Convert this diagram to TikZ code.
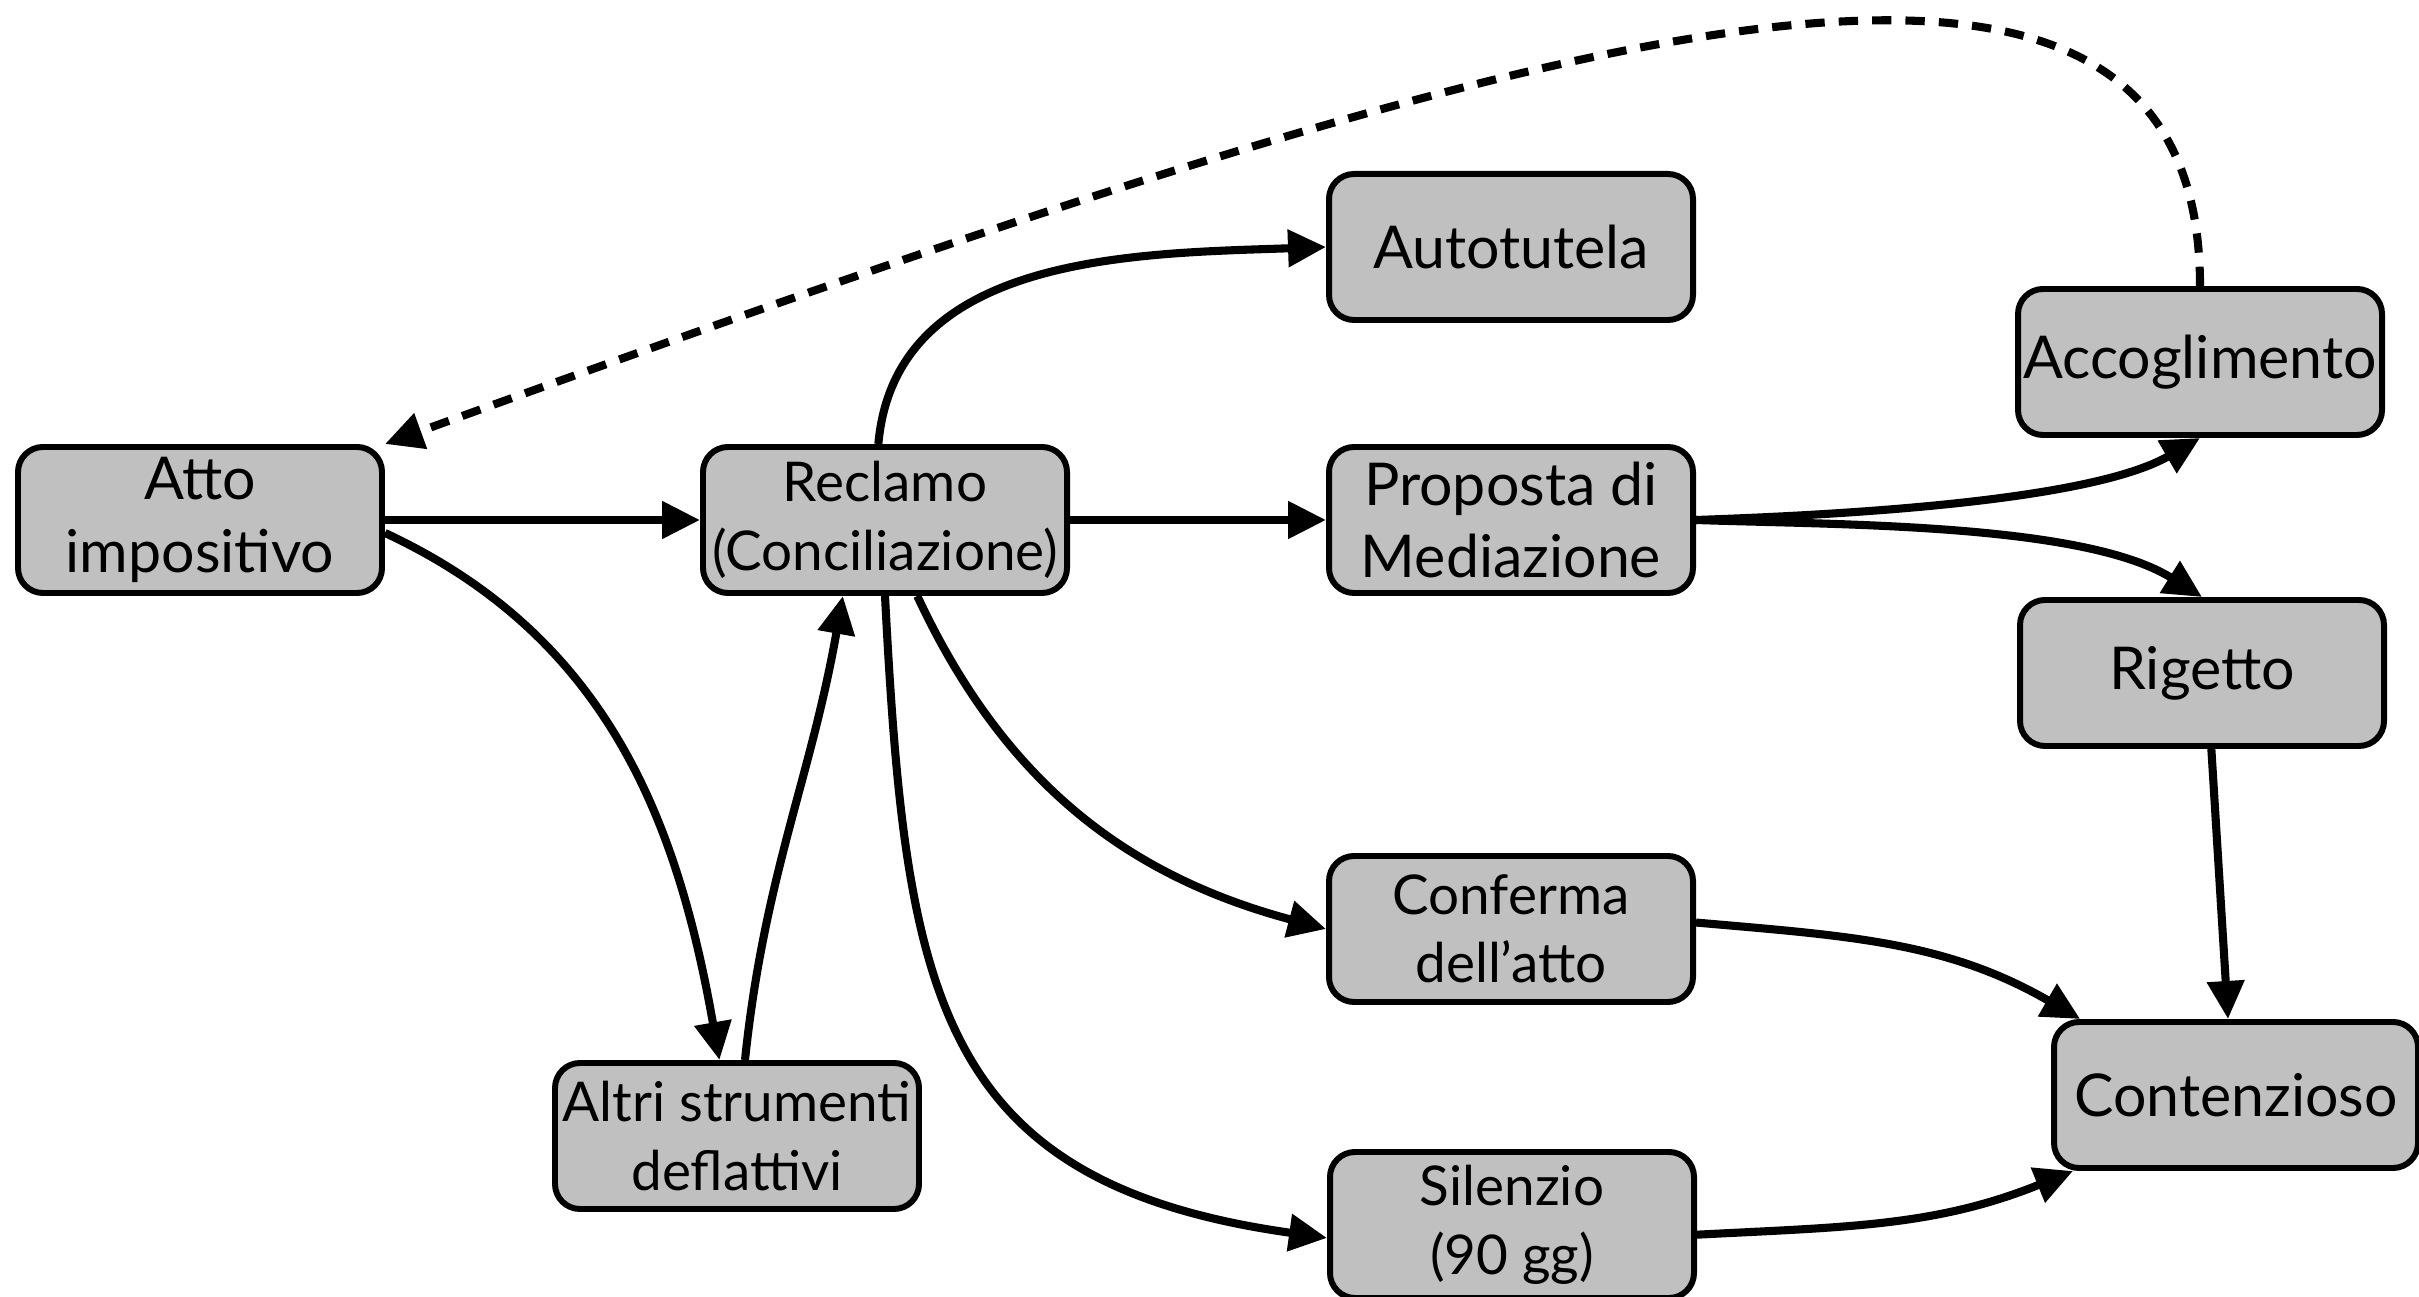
\documentclass[tikz,border=0pt]{standalone}
\usepackage{fontspec}
\setmainfont{Lato}
\usepackage{xcolor}
\usepackage{tikz}
\usetikzlibrary{arrows.meta}
\definecolor{boxgray}{RGB}{192,192,192}
\tikzset{
    stage/.style={draw, rectangle, fill=boxgray, line width=1.7pt, minimum width=3.64cm, minimum height=1.46cm, text centered, align=center, inner sep=0pt, rounded corners=0.25cm, font=\fontsize{16.8}{20.7}\selectfont},
    minor/.style={font=\fontsize{15.6}{19.5}\selectfont},
    arrow/.style={-{Triangle[length=0.38cm, width=0.36cm]}, line width=2.3pt},
    back/.style={arrow, dash pattern=on 5.5pt off 4pt}
}

\begin{document}
\begin{tikzpicture}
    \useasboundingbox (0,0) rectangle (24.19,12.96);

    \node[stage] (atto) at (2.00,7.76) {Atto\\impositivo};
    \node[stage, minor] (reclamo) at (8.85,7.76) {Reclamo\\(Conciliazione)};
    \node[stage] (autotutela) at (15.11,10.49) {Autotutela};
    \node[stage] (proposta) at (15.11,7.76) {Proposta di\\Mediazione};
    \node[stage] (accoglimento) at (22.00,9.34) {Accoglimento};
    \node[stage] (rigetto) at (22.02,6.23) {Rigetto};
    \node[stage, minor] (conferma) at (15.11,3.67) {Conferma\\dell'atto};
    \node[stage] (contenzioso) at (22.36,2.01) {Contenzioso};
    \node[stage, minor] (altri) at (7.37,1.60) {Altri strumenti\\deflattivi};
    \node[stage, minor] (silenzio) at (15.12,0.71) {Silenzio\\(90 gg)};

    \draw[arrow] (atto.east) -- (reclamo.west);
    \draw[arrow] (atto.-4) to[out=-25, in=100] (altri.103);
    \draw[arrow] (altri.84) to[out=84, in=-100] (reclamo.241);
    \draw[arrow] (reclamo.95) to[out=85, in=182] (autotutela.west);
    \draw[arrow] (reclamo.east) -- (proposta.west);
    \draw[arrow] (reclamo.-67) to[out=-65, in=165] (conferma.west);
    \draw[arrow] (reclamo.south) to[out=-87, in=172, looseness=1.3] (silenzio.184);
    \draw[arrow] (proposta.east) to[out=2, in=-150, looseness=0.65] (accoglimento.south);
    \draw[arrow] (proposta.east) to[out=-2, in=148, looseness=0.7] (rigetto.north);
    \draw[arrow] (rigetto.-83) -- (contenzioso.96);
    \draw[arrow] (conferma.2) to[out=-5, in=150] (contenzioso.154);
    \draw[arrow] (silenzio.-3) to[out=3, in=-158] (contenzioso.205);

    % ritorno dall'accoglimento
    \draw[back] (accoglimento.north) .. controls (22.00,14.8) and (15.10,12.60) .. (atto.north east);
\end{tikzpicture}
\end{document}
